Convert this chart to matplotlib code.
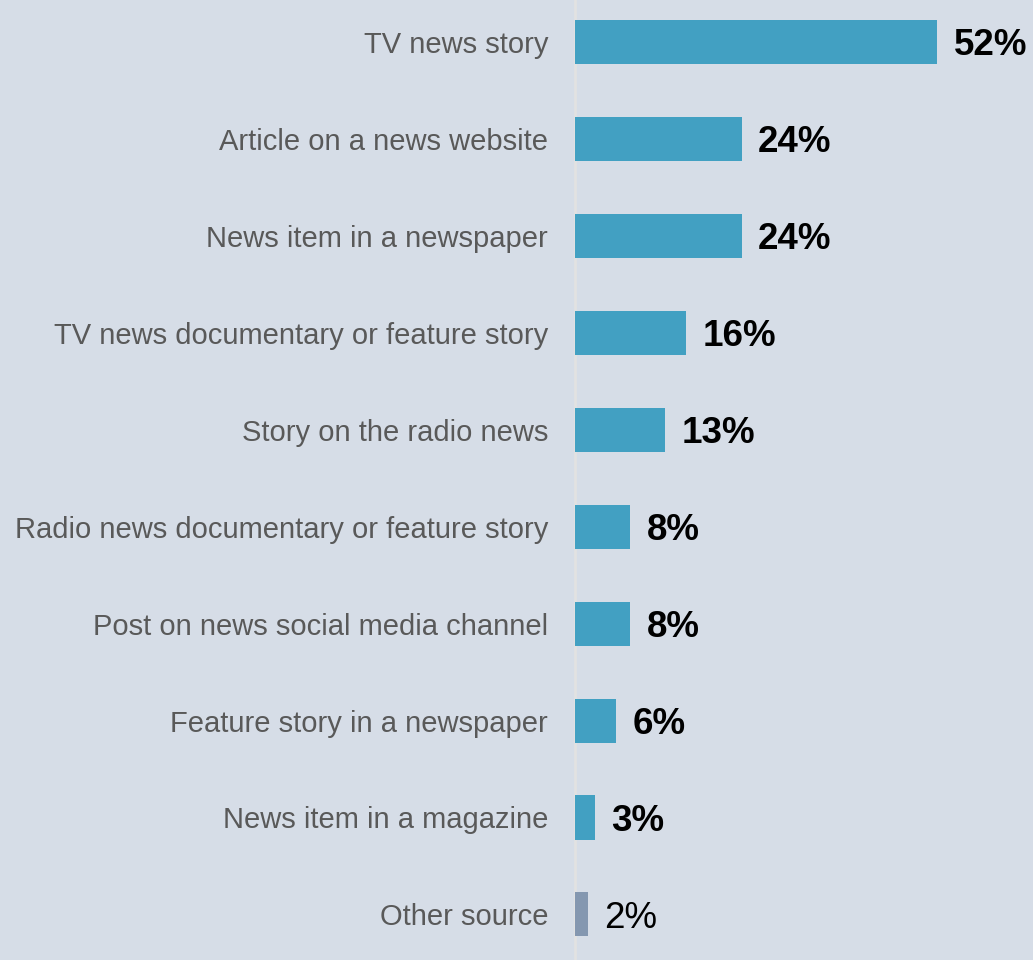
import matplotlib.pyplot as plt

plt.rcParams['font.family'] = ['Liberation Sans', 'DejaVu Sans']

categories = [
    "TV news story",
    "Article on a news website",
    "News item in a newspaper",
    "TV news documentary or feature story",
    "Story on the radio news",
    "Radio news documentary or feature story",
    "Post on news social media channel",
    "Feature story in a newspaper",
    "News item in a magazine",
    "Other source",
]
values = [52, 24, 24, 16, 13, 8, 8, 6, 3, 2]

bg = "#D6DDE7"
main_color = "#42A0C2"
other_color = "#8497B0"
colors = [main_color] * (len(values) - 1) + [other_color]

fig = plt.figure(figsize=(10.33, 9.6), dpi=100, facecolor=bg)
ax = fig.add_axes([574.5 / 1033, 0, 458.5 / 1033, 1])
ax.set_facecolor(bg)

y = list(range(len(categories)))
ax.barh(y, values, height=0.454, color=colors, edgecolor="none", zorder=3)

ax.set_xlim(0, 65.7)
ax.set_ylim(9.47, -0.433)

ax.set_yticks(y)
ax.set_yticklabels(categories, fontsize=21, color="#595959")
ax.tick_params(axis="y", length=0, pad=19)
ax.set_xticks([])

for s in ["top", "right", "bottom"]:
    ax.spines[s].set_visible(False)
ax.spines["left"].set_color("#E2E2E2")
ax.spines["left"].set_linewidth(2)

for i, v in enumerate(values):
    last = i == len(values) - 1
    ax.text(v + 2.3, i, f"{v}%", va="center_baseline", ha="left", fontsize=26.5,
            fontweight="normal" if last else "bold", color="black")

fig.savefig("out.png", dpi=100, facecolor=bg)
